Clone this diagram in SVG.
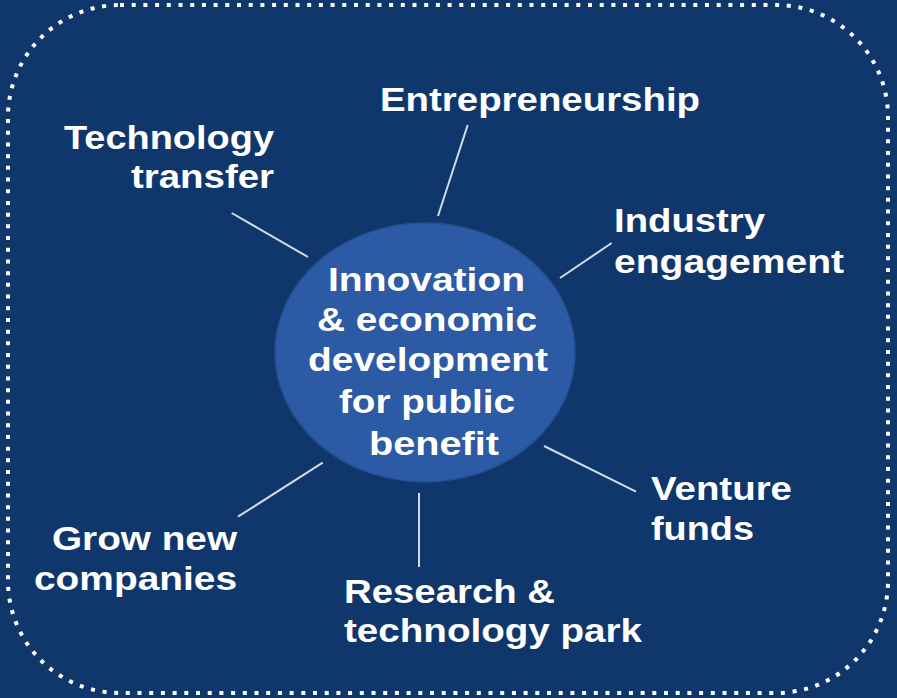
<svg xmlns="http://www.w3.org/2000/svg" width="897" height="698" viewBox="0 0 897 698">
<style>
.t{font-family:"Liberation Sans",Arial,sans-serif;font-weight:bold;font-size:34px;fill:#ffffff}
.c{stroke:#d3dbe8;stroke-width:2;fill:none}
</style>
<rect x="0" y="0" width="897" height="698" fill="#10376c"/>
<rect x="8" y="5" width="880" height="688" rx="112" ry="112" fill="none" stroke="#ffffff" stroke-width="4" stroke-dasharray="4 7.7"/>
<g id="connectors">
<line class="c" x1="467.7" y1="125" x2="438" y2="216"/>
<line class="c" x1="231.7" y1="213" x2="308" y2="257"/>
<line class="c" x1="611.7" y1="243" x2="560" y2="278"/>
<line class="c" x1="322.7" y1="462.7" x2="238" y2="516.7"/>
<line class="c" x1="419" y1="493" x2="419" y2="567"/>
<line class="c" x1="544" y1="446" x2="636" y2="491.7"/>
</g>
<g id="center">
<ellipse cx="425" cy="352.5" rx="150" ry="129.5" fill="#2c5aa4" stroke="#24508f" stroke-width="1.5"/>
<text class="t" x="328" y="291" textLength="197" lengthAdjust="spacingAndGlyphs">Innovation</text>
<text class="t" x="317" y="331" textLength="220" lengthAdjust="spacingAndGlyphs">&amp; economic</text>
<text class="t" x="308" y="371" textLength="240" lengthAdjust="spacingAndGlyphs">development</text>
<text class="t" x="339" y="413" textLength="176" lengthAdjust="spacingAndGlyphs">for public</text>
<text class="t" x="369" y="455" textLength="130" lengthAdjust="spacingAndGlyphs">benefit</text>
</g>
<g id="entrepreneurship">
<text class="t" x="380" y="111" textLength="320" lengthAdjust="spacingAndGlyphs">Entrepreneurship</text>
</g>
<g id="technology-transfer">
<text class="t" x="64" y="149" textLength="210" lengthAdjust="spacingAndGlyphs">Technology</text>
<text class="t" x="131" y="188" textLength="143" lengthAdjust="spacingAndGlyphs">transfer</text>
</g>
<g id="industry-engagement">
<text class="t" x="614" y="232" textLength="151" lengthAdjust="spacingAndGlyphs">Industry</text>
<text class="t" x="614" y="273" textLength="230" lengthAdjust="spacingAndGlyphs">engagement</text>
</g>
<g id="venture-funds">
<text class="t" x="651" y="500" textLength="141" lengthAdjust="spacingAndGlyphs">Venture</text>
<text class="t" x="651" y="540" textLength="103" lengthAdjust="spacingAndGlyphs">funds</text>
</g>
<g id="research-park">
<text class="t" x="344" y="603" textLength="211" lengthAdjust="spacingAndGlyphs">Research &amp;</text>
<text class="t" x="344" y="642" textLength="298" lengthAdjust="spacingAndGlyphs">technology park</text>
</g>
<g id="grow-companies">
<text class="t" x="52" y="550" textLength="185" lengthAdjust="spacingAndGlyphs">Grow new</text>
<text class="t" x="34" y="590" textLength="203" lengthAdjust="spacingAndGlyphs">companies</text>
</g>
</svg>
